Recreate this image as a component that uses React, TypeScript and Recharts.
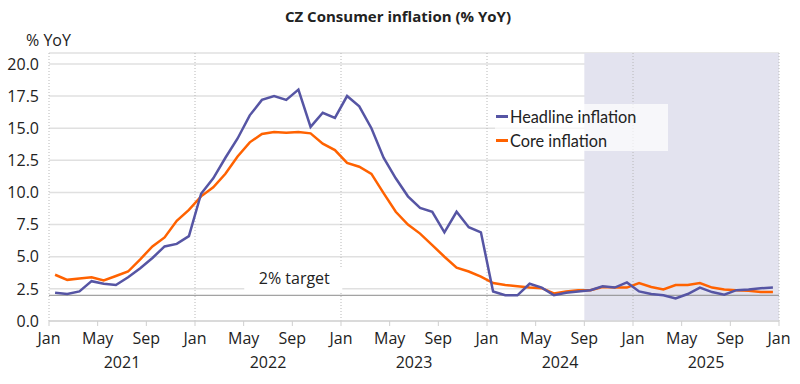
import React from "react";
import {
  LineChart,
  Line,
  XAxis,
  YAxis,
  CartesianGrid,
  ReferenceLine,
  ReferenceArea,
  Legend,
} from "recharts";

// monthly, Jan 2021 .. Dec 2025
const headline = [
  2.2, 2.1, 2.3, 3.1, 2.9, 2.8, 3.4, 4.1, 4.9, 5.8, 6.0, 6.6,
  9.9, 11.1, 12.7, 14.2, 16.0, 17.2, 17.5, 17.2, 18.0, 15.1, 16.2, 15.8,
  17.5, 16.7, 15.0, 12.7, 11.1, 9.7, 8.8, 8.5, 6.9, 8.5, 7.3, 6.9,
  2.3, 2.0, 2.0, 2.9, 2.6, 2.0, 2.2, 2.3, 2.4, 2.7, 2.6, 3.0,
  2.3, 2.1, 2.0, 1.75, 2.1, 2.6, 2.25, 2.05, 2.4, 2.45, 2.55, 2.6,
];
const core = [
  3.6, 3.2, 3.3, 3.4, 3.15, 3.5, 3.85, 4.8, 5.8, 6.5, 7.8, 8.65,
  9.7, 10.4, 11.45, 12.8, 13.9, 14.55, 14.7, 14.65, 14.7, 14.6, 13.8, 13.3,
  12.3, 12.0, 11.45, 9.95, 8.5, 7.5, 6.8, 5.9, 5.0, 4.15, 3.85, 3.45,
  2.95, 2.8, 2.7, 2.6, 2.55, 2.15, 2.3, 2.4, 2.4, 2.65, 2.6, 2.6,
  2.95, 2.65, 2.45, 2.8, 2.8, 2.95, 2.6, 2.45, 2.4, 2.35, 2.25, 2.25,
];
const monthTicks = [0, 4, 8, 12, 16, 20, 24, 28, 32, 36, 40, 44, 48, 52, 56, 60];
const monthNames = ["Jan", "May", "Sep"];
const yearTicks = [6, 18, 30, 42, 54];
const years = ["2021", "2022", "2023", "2024", "2025"];
const janLines = [0, 12, 24, 36, 48, 60];
const yTicks = [0, 2.5, 5, 7.5, 10, 12.5, 15, 17.5, 20];
const forecastStart = 44; // Sep 2024
const target = 2;

const data = headline.map((h, i) => ({ t: i + 0.5, headline: h, core: core[i] }));

const FONT = "'Open Sans', sans-serif";
const TEXT = "#222";
const INDIGO = "#5655a4";
const ORANGE = "#ff6200";

const TargetLabel = (props: any) => {
  const { viewBox } = props;
  const cx = viewBox.x + viewBox.width * 0.336;
  return (
    <g>
      <rect x={cx - 50} y={viewBox.y - 27} width={98} height={24} fill="#fff" />
      <text x={cx} y={viewBox.y - 11} textAnchor="middle" fontSize={16} fill={TEXT} fontFamily={FONT}>
        2% target
      </text>
    </g>
  );
};

const legendItems = [
  { label: "Headline inflation", color: INDIGO },
  { label: "Core inflation", color: ORANGE },
];

const LegendBox = () => (
  <div
    style={{
      background: "rgba(255,255,255,0.7)",
      width: 173,
      height: 47,
      padding: "0 0 0 1px",
      boxSizing: "border-box",
      fontFamily: "Lato, sans-serif",
      fontSize: 16.3,
      color: TEXT,
    }}
  >
    {legendItems.map((it) => (
      <div key={it.label} style={{ display: "flex", alignItems: "center", height: 24 }}>
        <span style={{ display: "inline-block", width: 12, height: 3, background: it.color, marginRight: 2 }} />
        <span>{it.label}</span>
      </div>
    ))}
  </div>
);

export default function App() {
  return (
    <div style={{ position: "absolute", left: 0, top: 0, width: 800, height: 384, background: "#fff" }}>
      <div
        style={{
          position: "absolute",
          top: 6,
          left: 0,
          width: 796,
          textAlign: "center",
          fontFamily: FONT,
          fontWeight: 700,
          fontSize: 15,
          color: TEXT,
        }}
      >
        CZ Consumer inflation (% YoY)
      </div>
      <div style={{ position: "absolute", top: 29, left: 26, fontFamily: FONT, fontSize: 16, color: TEXT }}>
        % YoY
      </div>
      <LineChart
        width={800}
        height={384}
        data={data}
        margin={{ top: 53, right: 21, bottom: 0, left: 0 }}
        style={{ fontFamily: FONT }}
      >
        <ReferenceArea x1={forecastStart} x2={60} y1={0} y2={20.85} fill="#e3e3ef" fillOpacity={1} stroke="none" />
        <CartesianGrid vertical={false} stroke="#e0e0e0" strokeWidth={1.5} />
        <XAxis
          dataKey="t"
          type="number"
          domain={[0, 60]}
          ticks={monthTicks}
          interval={0}
          height={24}
          tickFormatter={(v) => monthNames[(v % 12) / 4]}
          tick={{ fontSize: 16, fill: TEXT }}
          tickSize={5}
          tickMargin={7}
          axisLine={{ stroke: "#d6d6d6", strokeWidth: 1.5 }}
          tickLine={{ stroke: "#cfcfcf" }}
        />
        <XAxis
          xAxisId="yr"
          dataKey="t"
          type="number"
          domain={[0, 60]}
          ticks={yearTicks}
          interval={0}
          height={39}
          tickFormatter={(v) => years[Math.floor(v / 12)]}
          tick={{ fontSize: 16, fill: TEXT }}
          tickSize={0}
          tickMargin={12}
          axisLine={false}
          tickLine={false}
        />
        <YAxis
          domain={[0, 20.85]}
          ticks={yTicks}
          interval={0}
          width={49}
          tickFormatter={(v) => v.toFixed(1)}
          tick={{ fontSize: 16, fill: TEXT }}
          tickSize={0}
          tickMargin={10}
          axisLine={false}
          tickLine={false}
          allowDataOverflow
        />
        {janLines.map((x) => (
          <ReferenceLine key={x} x={x} stroke="#b8b8b8" strokeDasharray="1 2" />
        ))}
        <ReferenceLine y={target} stroke="#8a8a8a" strokeWidth={1} label={<TargetLabel />} />
        <Legend
          layout="vertical"
          align="center"
          verticalAlign="middle"
          content={<LegendBox />}
          wrapperStyle={{ top: 104, left: 495, width: 173 }}
        />
        <Line
          dataKey="core"
          stroke={ORANGE}
          strokeWidth={2.5}
          dot={false}
          isAnimationActive={false}
          type="linear"
        />
        <Line
          dataKey="headline"
          stroke={INDIGO}
          strokeWidth={2.5}
          dot={false}
          isAnimationActive={false}
          type="linear"
        />
      </LineChart>
    </div>
  );
}
